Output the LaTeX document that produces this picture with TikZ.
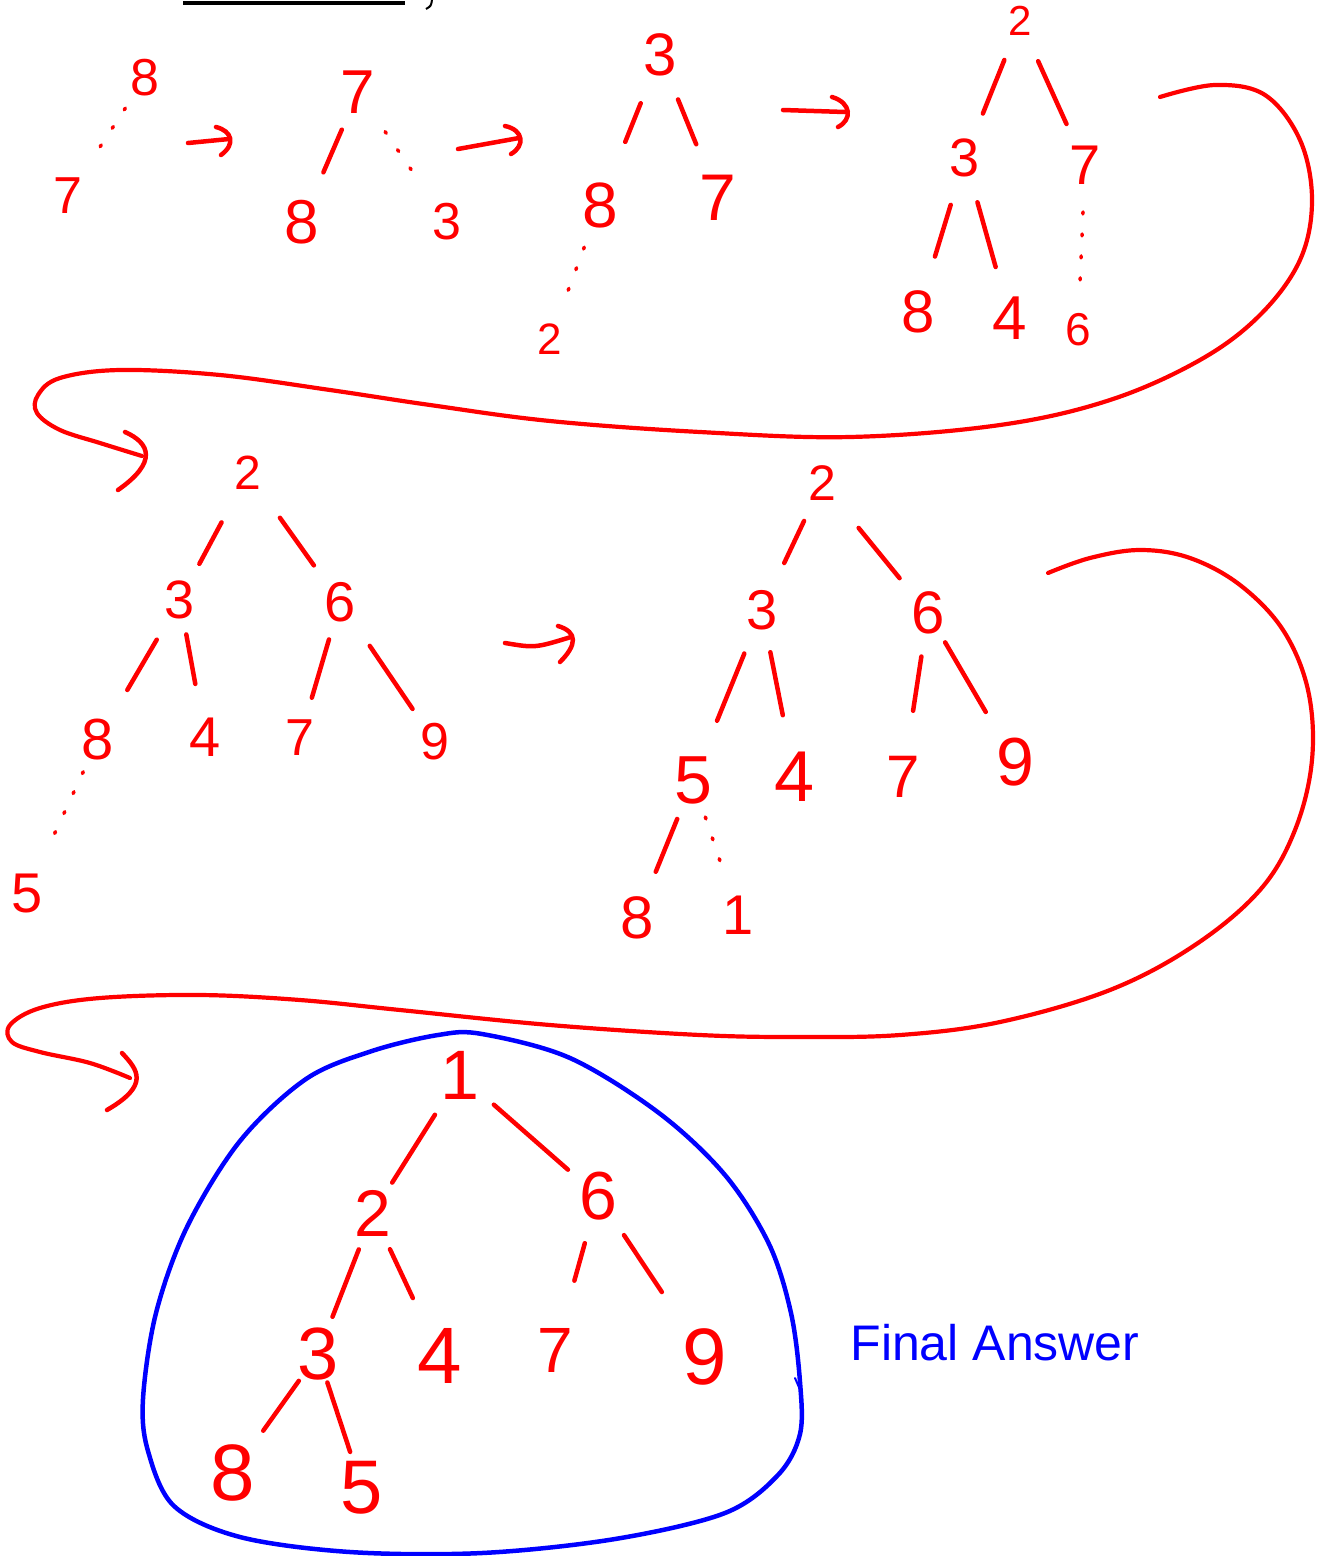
\documentclass[tikz,border=0pt]{standalone}
\usepackage{fontspec}
\setmainfont{Liberation Sans}
\usetikzlibrary{arrows.meta}
\begin{document}
\begin{tikzpicture}[x=1pt,y=-1pt,
  num/.style={text=red, inner sep=0pt, font=\fontsize{#1}{#1}\selectfont},
  edge/.style={draw=red, line width=4.5pt, line cap=round},
  dots/.style={draw=red, line width=3.5pt, line cap=round, dash pattern=on 2pt off 20pt},
  stroke/.style={draw=red, line width=4.5pt, line cap=round, line join=round},
  bstroke/.style={draw=blue, line width=4.5pt, line cap=round, line join=round}]
\useasboundingbox (0,0) rectangle (1320,1556);
% top fragment
\draw[black, line width=4pt] (183,3) -- (405,3);
\draw[black, line width=2pt] (432,0) .. controls (431,6) .. (426,9);
% tree 1
\node[num=52] (t1a) at (145,78) {8};
\node[num=52] (t1b) at (68,196) {7};
\draw[dots, shorten <=36pt, shorten >=47pt] (t1a.center) -- (t1b.center);
% arrow 1
\coordinate (a1s) at (188,143); \coordinate (a1e) at (229,139);
\draw[stroke] (a1s) -- (a1e);
\draw[stroke] (216,127) .. controls (232,131) and (236,144) .. (221,155);
% tree 2
\node[num=62] (t2r) at (358,92) {7};
\node[num=62] (t2l) at (302,222) {8};
\node[num=52] (t2c) at (447,222) {3};
\draw[edge, shorten <=41pt, shorten >=54pt] (t2r.center) -- (t2l.center);
\draw[dots, shorten <=48pt, shorten >=50pt] (t2r.center) -- (t2c.center);
% arrow 2
\coordinate (a2s) at (458,149); \coordinate (a2e) at (519,138);
\draw[stroke] (a2s) -- (a2e);
\draw[stroke] (505,126) .. controls (524,130) and (525,146) .. (511,154);
% tree 3
\node[num=60] (t3r) at (660,55) {3};
\node[num=64] (t3l) at (600,205) {8};
\node[num=66] (t3c) at (718,198) {7};
\node[num=44] (t3d) at (550,339) {2};
\draw[edge, shorten <=52pt, shorten >=68pt] (t3r.center) -- (t3l.center);
\draw[edge, shorten <=48pt, shorten >=58pt] (t3r.center) -- (t3c.center);
\draw[dots, shorten <=45pt, shorten >=45pt] (t3l.center) -- (t3d.center);
% arrow 3
\coordinate (a3s) at (783,110); \coordinate (a3e) at (845,112);
\draw[stroke] (a3s) -- (a3e);
\draw[stroke] (832,97) .. controls (852,103) and (852,120) .. (838,127);
% tree 4
\node[num=42] (t4r) at (1020,21) {2};
\node[num=54] (t4a) at (965,158) {3};
\node[num=56] (t4b) at (1085,165) {7};
\node[num=60] (t4c) at (918,312) {8};
\node[num=62] (t4d) at (1010,318) {4};
\node[num=46] (t4e) at (1078,330) {6};
\draw[edge, shorten <=42pt, shorten >=48pt] (t4r.center) -- (t4a.center);
\draw[edge, shorten <=44pt, shorten >=45pt] (t4r.center) -- (t4b.center);
\draw[edge, shorten <=49pt, shorten >=58pt] (t4a.center) -- (t4c.center);
\draw[edge, shorten <=46pt, shorten >=53pt] (t4a.center) -- (t4d.center);
\draw[dots, shorten <=47pt, shorten >=41pt] (t4b.center) -- (t4e.center);
% big curve 1
\coordinate (c1s) at (1160,97); \coordinate (c1e) at (142,456);
\draw[stroke, line width=4.2pt] plot[smooth, tension=0.6] coordinates {(c1s) (1215,85) (1265,95) (1300,140) (1312,200) (1300,260) (1260,315) (1200,360) (1110,400) (1000,425) (850,437) (700,432) (550,421) (430,405) (330,390) (220,375) (120,370) (60,378) (38,395) (37,413) (60,430) (100,443) (c1e)};
\draw[stroke] (125,432) .. controls (150,443) and (158,462) .. (118,490);
% tree 5
\node[num=48] (t5r) at (248,473) {2};
\node[num=54] (t5a) at (180,600) {3};
\node[num=56] (t5b) at (340,602) {6};
\node[num=58] (t5c) at (98,740) {8};
\node[num=56] (t5d) at (205,737) {4};
\node[num=52] (t5e) at (300,738) {7};
\node[num=52] (t5f) at (435,742) {9};
\node[num=56] (t5g) at (27,893) {5};
\draw[edge, shorten <=56pt, shorten >=41pt] (t5r.center) -- (t5a.center);
\draw[edge, shorten <=55pt, shorten >=45pt] (t5r.center) -- (t5b.center);
\draw[edge, shorten <=46pt, shorten >=58pt] (t5a.center) -- (t5c.center);
\draw[edge, shorten <=35pt, shorten >=54pt] (t5a.center) -- (t5d.center);
\draw[edge, shorten <=39pt, shorten >=42pt] (t5b.center) -- (t5e.center);
\draw[edge, shorten <=53pt, shorten >=40pt] (t5b.center) -- (t5f.center);
\draw[dots, shorten <=35pt, shorten >=52pt] (t5c.center) -- (t5g.center);
% arrow 5
\coordinate (a5s) at (505,643); \coordinate (a5e) at (571,637);
\draw[stroke] (a5s) .. controls (535,648) .. (a5e);
\draw[stroke] (558,626) .. controls (578,632) and (577,645) .. (560,662);
% tree 6
\node[num=50] (t6r) at (822,483) {2};
\node[num=56] (t6a) at (762,610) {3};
\node[num=60] (t6b) at (928,613) {6};
\node[num=68] (t6c) at (693,780) {5};
\node[num=72] (t6d) at (795,777) {4};
\node[num=60] (t6e) at (903,777) {7};
\node[num=68] (t6f) at (1015,762) {9};
\node[num=60] (t6g) at (637,918) {8};
\node[num=56] (t6h) at (738,915) {1};
\draw[edge, shorten <=42pt, shorten >=52pt] (t6r.center) -- (t6a.center);
\draw[edge, shorten <=58pt, shorten >=45pt] (t6r.center) -- (t6b.center);
\draw[edge, shorten <=47pt, shorten >=64pt] (t6a.center) -- (t6c.center);
\draw[edge, shorten <=43pt, shorten >=63pt] (t6a.center) -- (t6d.center);
\draw[edge, shorten <=44pt, shorten >=67pt] (t6b.center) -- (t6e.center);
\draw[edge, shorten <=34pt, shorten >=58pt] (t6b.center) -- (t6f.center);
\draw[edge, shorten <=42pt, shorten >=50pt] (t6c.center) -- (t6g.center);
\draw[dots, shorten <=39pt, shorten >=45pt] (t6c.center) -- (t6h.center);
% big curve 2
\coordinate (c2s) at (1048,573); \coordinate (c2e) at (130,1078);
\draw[stroke, line width=4.2pt] plot[smooth, tension=0.6] coordinates {(c2s) (1090,558) (1140,550) (1190,558) (1240,585) (1283,630) (1308,690) (1312,760) (1295,830) (1260,890) (1195,945) (1110,990) (1000,1022) (900,1035) (800,1037) (700,1035) (550,1025) (400,1010) (300,1000) (200,995) (100,998) (40,1008) (10,1025) (12,1042) (40,1052) (90,1063) (c2e)};
\draw[stroke] (122,1053) .. controls (138,1070) and (150,1085) .. (107,1110);
% tree 7
\node[num=70] (t7r) at (460,1075) {1};
\node[num=66] (t7a) at (373,1213) {2};
\node[num=68] (t7b) at (598,1196) {6};
\node[num=74] (t7c) at (318,1354) {3};
\node[num=80] (t7d) at (440,1356) {4};
\node[num=64] (t7e) at (555,1350) {7};
\node[num=80] (t7f) at (705,1357) {9};
\node[num=80] (t7g) at (233,1473) {8};
\node[num=76] (t7h) at (362,1488) {5};
\draw[edge, shorten <=47pt, shorten >=36pt] (t7r.center) -- (t7a.center);
\draw[edge, shorten <=45pt, shorten >=40pt] (t7r.center) -- (t7b.center);
\draw[edge, shorten <=39pt, shorten >=40pt] (t7a.center) -- (t7c.center);
\draw[edge, shorten <=40pt, shorten >=64pt] (t7a.center) -- (t7d.center);
\draw[edge, shorten <=49pt, shorten >=72pt] (t7b.center) -- (t7e.center);
\draw[edge, shorten <=47pt, shorten >=78pt] (t7b.center) -- (t7f.center);
\draw[edge, shorten <=33pt, shorten >=52pt] (t7c.center) -- (t7g.center);
\draw[edge, shorten <=30pt, shorten >=38pt] (t7c.center) -- (t7h.center);
% blue loop
\draw[bstroke] plot[smooth cycle, tension=0.55] coordinates {(482,1034) (570,1058) (659,1113) (725,1175) (769,1244) (791,1313) (800,1382) (800,1434) (778,1475) (725,1513) (615,1539) (482,1553) (350,1552) (240,1537) (174,1506) (148,1451) (143,1399) (156,1313) (187,1227) (240,1141) (306,1079) (372,1051) (438,1035)};
\draw[bstroke, line width=2pt] (795,1378) -- (801,1392);
\node[text=blue, font=\fontsize{50}{50}\selectfont, inner sep=0pt] (fa) at (995,1343) {Final Answer};
\end{tikzpicture}
\end{document}
